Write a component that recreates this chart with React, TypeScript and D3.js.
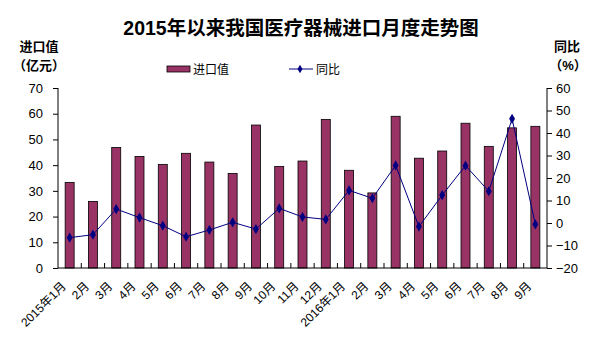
import { useEffect, useRef } from 'react';
import * as d3 from 'd3';

// 月份标签
const months = [
  '2015年1月', '2月', '3月', '4月', '5月', '6月', '7月', '8月', '9月', '10月', '11月', '12月',
  '2016年1月', '2月', '3月', '4月', '5月', '6月', '7月', '8月', '9月'
];

// 进口值（亿元）
const importValues = [
  33.3, 25.9, 46.9, 43.4, 40.3, 44.6, 41.2, 36.8, 55.6, 39.5, 41.6, 57.8,
  38.0, 29.2, 59.0, 42.7, 45.5, 56.3, 47.3, 54.5, 55.1
];

// 同比（%）
const yoyValues = [
  -6.5, -5.2, 6.2, 2.4, -1.2, -6.1, -3.1, 0.3, -2.7, 6.5, 2.7, 1.6,
  14.5, 11.0, 25.6, -1.6, 12.4, 25.5, 14.1, 46.3, -0.6
];

const leftTicks = [0, 10, 20, 30, 40, 50, 60, 70];
const rightTicks = [-20, -10, 0, 10, 20, 30, 40, 50, 60];

export default function App() {
  const chartRef = useRef<SVGSVGElement>(null);

  useEffect(() => {
    if (!chartRef.current) return;
    const svg = d3.select(chartRef.current);
    svg.selectAll('*').remove();

    const W = 600;
    const H = 359;
    const margin = { top: 88, right: 53, bottom: 91, left: 58 };
    const width = W - margin.left - margin.right;
    const height = H - margin.top - margin.bottom;
    const font = 'Arial, "Liberation Sans", "Noto Sans CJK SC", sans-serif';

    svg.append('rect').attr('width', W).attr('height', H).attr('fill', '#fff');

    // 标题
    svg.append('text')
      .attr('x', 301)
      .attr('y', 35)
      .attr('text-anchor', 'middle')
      .style('font-family', font)
      .style('font-size', '19.5px')
      .style('font-weight', 'bold')
      .text('2015年以来我国医疗器械进口月度走势图');

    // 轴标题
    const axisTitle = (x: number, y: number, t: string) =>
      svg.append('text')
        .attr('x', x).attr('y', y)
        .attr('text-anchor', 'middle')
        .style('font-family', font)
        .style('font-size', '13px')
        .style('font-weight', 'bold')
        .text(t);
    axisTitle(39, 51, '进口值');
    axisTitle(39, 70, '（亿元）');
    axisTitle(567, 51, '同比');
    axisTitle(568, 70, '（%）');

    // 图例
    svg.append('rect')
      .attr('x', 167).attr('y', 66).attr('width', 23).attr('height', 6)
      .attr('fill', '#993366').attr('stroke', '#000').attr('stroke-width', 0.8);
    svg.append('text')
      .attr('x', 193).attr('y', 74)
      .style('font-family', font).style('font-size', '12px')
      .text('进口值');
    svg.append('line')
      .attr('x1', 289).attr('x2', 313).attr('y1', 69).attr('y2', 69)
      .attr('stroke', '#000080').attr('stroke-width', 1);
    svg.append('path')
      .attr('d', d3.symbol(d3.symbolDiamond, 22)())
      .attr('transform', 'translate(300,69)')
      .attr('fill', '#000080');
    svg.append('text')
      .attr('x', 316).attr('y', 74)
      .style('font-family', font).style('font-size', '12px')
      .text('同比');

    const g = svg.append('g').attr('transform', `translate(${margin.left},${margin.top})`);

    const x = d3.scaleBand<number>()
      .domain(months.map((_, i) => i))
      .range([0, width]);

    const step = x.step();
    const y = d3.scaleLinear().domain([0, 70]).range([height, 0]);
    const y2 = d3.scaleLinear().domain([-20, 60]).range([height, 0]);

    // 柱子
    g.selectAll('.bar')
      .data(importValues)
      .enter()
      .append('rect')
      .attr('class', 'bar')
      .attr('x', (_, i) => (x(i) || 0) + step / 2 - 4.5)
      .attr('width', 9)
      .attr('y', d => y(d))
      .attr('height', d => height - y(d))
      .attr('fill', '#993366')
      .attr('stroke', '#000')
      .attr('stroke-width', 0.8);

    // 折线
    const line = d3.line<number>()
      .x((_, i) => (x(i) || 0) + step / 2)
      .y(d => y2(d));
    g.append('path')
      .datum(yoyValues)
      .attr('d', line)
      .attr('fill', 'none')
      .attr('stroke', '#000080')
      .attr('stroke-width', 1);
    g.selectAll('.pt')
      .data(yoyValues)
      .enter()
      .append('path')
      .attr('class', 'pt')
      .attr('d', d3.symbol(d3.symbolDiamond, 30)())
      .attr('transform', (d, i) => `translate(${(x(i) || 0) + step / 2},${y2(d)})`)
      .attr('fill', '#000080');

    // 左轴
    const left = g.append('g')
      .call(d3.axisLeft(y).tickValues(leftTicks).tickSize(5).tickPadding(10));
    // 右轴
    const right = g.append('g')
      .attr('transform', `translate(${width},0)`)
      .call(d3.axisRight(y2).tickValues(rightTicks).tickSize(5).tickPadding(4));
    [left, right].forEach(a => {
      a.select('.domain').attr('stroke', '#000').attr('d', `M0,0V${height}`);
      a.selectAll('line').attr('stroke', '#000');
      a.selectAll('text')
        .style('font-family', font)
        .style('font-size', '13px')
        .attr('fill', '#000');
    });

    // 横轴
    const bottom = g.append('g').attr('transform', `translate(0,${height})`);
    bottom.append('line')
      .attr('x1', 0).attr('x2', width).attr('y1', 0).attr('y2', 0)
      .attr('stroke', '#000');
    bottom.selectAll('.xt')
      .data(d3.range(1, months.length))
      .enter()
      .append('line')
      .attr('x1', i => i * step).attr('x2', i => i * step)
      .attr('y1', 0).attr('y2', -5)
      .attr('stroke', '#000');
    bottom.selectAll('.xl')
      .data(months)
      .enter()
      .append('text')
      .attr('transform', (_, i) => `translate(${(x(i) || 0) + step / 2 - 3},${19}) rotate(-45)`)
      .attr('text-anchor', 'end')
      .style('font-family', font)
      .style('font-size', '12px')
      .text(d => d);
  }, []);

  return (
    <svg
      ref={chartRef}
      width={600}
      height={359}
      style={{ position: 'absolute', left: 0, top: 0 }}
    />
  );
}
